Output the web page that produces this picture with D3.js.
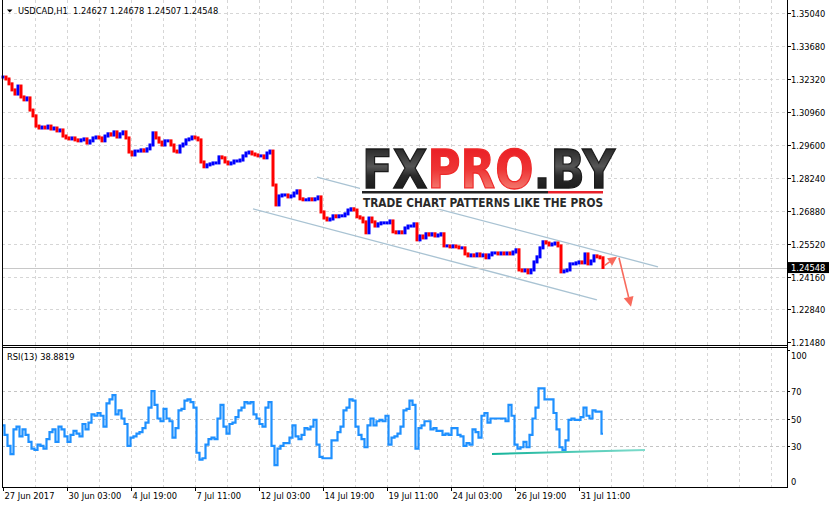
<!DOCTYPE html>
<html><head><meta charset="utf-8">
<script src="https://cdn.jsdelivr.net/npm/d3@7"></script>
<style>html,body{margin:0;padding:0;background:#fff;} svg{display:block;font-family:"DejaVu Sans",sans-serif;}</style>
</head><body><svg id="c" width="829" height="508"></svg>
<script>
// ---------- data ----------
const symbol = "USDCAD,H1";
const ohlcText = ["1.24627", "1.24678", "1.24507", "1.24548"];
const lastPrice = 1.24548;
const rsiTitle = "RSI(13) 38.8819";
const priceTicks = [1.35040, 1.33680, 1.32320, 1.30960, 1.29600, 1.28240, 1.26880, 1.25520, 1.24160, 1.22840, 1.21480];
const rsiTicks = [100, 70, 50, 30, 0];
const rsiLevels = [70, 50, 30];
const timeLabels = ["27 Jun 2017", "30 Jun 03:00", "4 Jul 19:00", "7 Jul 11:00", "12 Jul 03:00", "14 Jul 19:00", "19 Jul 11:00", "24 Jul 03:00", "26 Jul 19:00", "31 Jul 11:00"];
const timeLabelBars = [0, 64, 128, 192, 256, 320, 384, 448, 512, 576];
// closes sampled every 3 hourly bars (bar index 0,3,6,...,600)
const closes = [
1.3240,1.3232,1.3212,1.3187,1.3170,1.3203,1.3158,1.3146,1.3154,1.3104,
1.3080,1.3038,1.3030,1.3034,1.3030,1.3038,1.3026,1.3030,1.3018,1.3022,
1.2997,1.2989,1.2985,1.2989,1.2981,1.2977,1.2981,1.2985,1.2968,1.2977,
1.2989,1.2993,1.2989,1.2977,1.2997,1.3006,1.3001,1.3014,1.2993,1.3006,
1.3014,1.2989,1.2931,1.2919,1.2935,1.2935,1.2940,1.2935,1.2944,1.2960,
1.3010,1.2989,1.2972,1.2960,1.2977,1.2977,1.2960,1.2935,1.2931,1.2956,
1.2964,1.2981,1.2985,1.2993,1.2989,1.2981,1.2890,1.2870,1.2878,1.2882,
1.2886,1.2886,1.2911,1.2907,1.2890,1.2882,1.2886,1.2894,1.2894,1.2898,
1.2915,1.2927,1.2931,1.2923,1.2919,1.2915,1.2915,1.2907,1.2927,1.2935,
1.2795,1.2713,1.2750,1.2754,1.2754,1.2746,1.2750,1.2762,1.2771,1.2738,
1.2734,1.2734,1.2738,1.2734,1.2738,1.2746,1.2684,1.2659,1.2651,1.2655,
1.2668,1.2664,1.2668,1.2668,1.2676,1.2692,1.2697,1.2692,1.2664,1.2659,
1.2643,1.2598,1.2659,1.2643,1.2626,1.2635,1.2639,1.2639,1.2639,1.2647,
1.2602,1.2598,1.2602,1.2598,1.2618,1.2626,1.2626,1.2635,1.2569,1.2585,
1.2577,1.2594,1.2589,1.2594,1.2585,1.2589,1.2594,1.2544,1.2544,1.2540,
1.2544,1.2540,1.2536,1.2536,1.2511,1.2503,1.2507,1.2503,1.2511,1.2503,
1.2507,1.2495,1.2507,1.2515,1.2515,1.2511,1.2515,1.2511,1.2515,1.2511,
1.2519,1.2528,1.2445,1.2441,1.2445,1.2433,1.2445,1.2478,1.2499,1.2536,
1.2561,1.2556,1.2548,1.2552,1.2556,1.2544,1.2437,1.2441,1.2445,1.2470,
1.2470,1.2474,1.2478,1.2474,1.2511,1.2470,1.2482,1.2503,1.2499,1.2495,
1.2455];
const rsiValues = [
45,38,30,24,42,44,37,42,38,33,
28,27,31,30,28,35,40,42,33,44,
42,37,33,38,41,39,37,46,42,47,
53,52,54,52,44,61,64,67,53,56,
50,46,30,36,37,39,40,43,47,58,
70,60,50,48,57,50,48,36,43,56,
57,63,64,62,58,25,20,21,31,35,
36,35,50,60,44,39,46,47,51,56,
58,62,61,62,53,50,46,44,58,62,
30,16,28,30,32,32,36,45,37,35,
38,43,42,44,49,31,22,21,21,21,
34,34,40,44,56,58,64,63,44,38,
35,29,45,50,45,48,49,48,52,31,
36,37,39,44,56,57,63,60,28,43,
45,48,48,42,43,41,41,38,39,38,
43,43,38,37,30,32,31,42,40,36,
52,54,47,50,50,50,50,50,48,60,
52,31,28,29,33,29,38,50,58,72,
72,64,64,64,54,42,29,27,34,49,
50,49,49,51,58,52,50,56,55,55,
38.88];
const sampleStep = 3;
// annotations (bar index, value)
const upperChannel = [[314, 1.2828], [655, 1.2458]];
const lowerChannel = [[250, 1.2697], [594, 1.2322]];
const arrowUp = [[601, 1.2462], [614, 1.2499]];
const arrowDown = [[616, 1.2495], [628, 1.2293]];
const rsiSupport = [[489, 24.1], [642, 27.0]];

// ---------- layout ----------
const svg = d3.select("#c");
const left = 2, right = 787;
const mainTop = 0, mainBottom = 345, rsiTop = 347, rsiBottom = 487;
const FS = 8.3;

const x = d3.scaleLinear().domain([0, 784]).range([3, 787]);
const y = d3.scaleLinear().domain([1.21480, 1.35040]).range([342, 13]);
const yR = d3.scaleLinear().domain([0, 100]).range([487, 350]);

const defs = svg.append("defs");
const gd = defs.append("linearGradient").attr("id", "gDark").attr("x1", 0).attr("y1", 0).attr("x2", 0).attr("y2", 1);
gd.append("stop").attr("offset", "0%").attr("stop-color", "#111");
gd.append("stop").attr("offset", "45%").attr("stop-color", "#555");
gd.append("stop").attr("offset", "60%").attr("stop-color", "#2a2a2a");
gd.append("stop").attr("offset", "100%").attr("stop-color", "#111");
const gr = defs.append("linearGradient").attr("id", "gRed").attr("x1", 0).attr("y1", 0).attr("x2", 0).attr("y2", 1);
gr.append("stop").attr("offset", "0%").attr("stop-color", "#e8141e");
gr.append("stop").attr("offset", "50%").attr("stop-color", "#ee3535");
gr.append("stop").attr("offset", "100%").attr("stop-color", "#f7a08f");
const gt = defs.append("linearGradient").attr("id", "gTeal").attr("x1", 0).attr("y1", 0).attr("x2", 1).attr("y2", 0);
gt.append("stop").attr("offset", "0%").attr("stop-color", "#14b39a");
gt.append("stop").attr("offset", "100%").attr("stop-color", "#7fdccc");

// ---------- grid ----------
const grid = svg.append("g").attr("stroke", "#d6d6d6").attr("stroke-dasharray", "3,3").attr("stroke-width", 1);
const vGrid = d3.range(32, 784, 32);
vGrid.forEach(i => {
  grid.append("line").attr("x1", Math.round(x(i)) + 0.5).attr("x2", Math.round(x(i)) + 0.5).attr("y1", mainTop).attr("y2", mainBottom);
  grid.append("line").attr("x1", Math.round(x(i)) + 0.5).attr("x2", Math.round(x(i)) + 0.5).attr("y1", rsiTop).attr("y2", rsiBottom);
});
priceTicks.slice(0, -1).forEach(v => {
  grid.append("line").attr("x1", left).attr("x2", right).attr("y1", Math.round(y(v)) + 0.5).attr("y2", Math.round(y(v)) + 0.5);
});
rsiLevels.forEach(v => {
  grid.append("line").attr("x1", left).attr("x2", right).attr("y1", Math.round(yR(v)) + 0.5).attr("y2", Math.round(yR(v)) + 0.5).attr("stroke", "#c4c4c4");
});

// ---------- channel lines ----------
const lineP = d3.line().x(d => x(d[0])).y(d => y(d[1]));
[upperChannel, lowerChannel].forEach(c => {
  svg.append("path").attr("d", lineP(c)).attr("stroke", "#a9c3d3").attr("stroke-width", 1.3).attr("fill", "none");
});

// ---------- logo ----------
const logo = svg.append("g");
logo.append("rect").attr("x", 360).attr("y", 147).attr("width", 248).attr("height", 62).attr("fill", "#fff");
const lt = logo.append("text").attr("transform", "translate(362,188) scale(1,1.12)")
  .attr("font-size", 48).attr("font-weight", "bold").attr("textLength", 253).attr("lengthAdjust", "spacingAndGlyphs")
  .attr("font-family", "'DejaVu Sans', sans-serif");
lt.append("tspan").attr("fill", "url(#gDark)").attr("stroke", "#1a1a1a").attr("stroke-width", 1.2).text("FX");
lt.append("tspan").attr("fill", "url(#gRed)").attr("stroke", "#ee2a2a").attr("stroke-width", 1.2).text("PRO");
lt.append("tspan").attr("fill", "url(#gDark)").attr("stroke", "#1a1a1a").attr("stroke-width", 1.2).text(".BY");
logo.append("rect").attr("x", 362).attr("y", 191).attr("width", 186).attr("height", 2.5).attr("fill", "#222");
logo.append("rect").attr("x", 548).attr("y", 191).attr("width", 55).attr("height", 2.5).attr("fill", "#e8202a");
logo.append("text").attr("x", 363).attr("y", 207).attr("font-size", 12.5).attr("font-weight", "bold")
  .attr("textLength", 240).attr("lengthAdjust", "spacingAndGlyphs").attr("fill", "#2a2a2a")
  .text("TRADE CHART PATTERNS LIKE THE PROS");

// ---------- current price line ----------
svg.append("line").attr("x1", left).attr("x2", right).attr("y1", Math.round(y(lastPrice)) + 0.5).attr("y2", Math.round(y(lastPrice)) + 0.5)
  .attr("stroke", "#c8c8c8").attr("stroke-width", 1);

// ---------- price bars ----------
const barsG = svg.append("g");
closes.forEach((v, i) => {
  const prev = i > 0 ? closes[i - 1] : v;
  const top = y(Math.max(prev, v)) - 1.5;
  const bot = y(Math.min(prev, v)) + 1.5;
  barsG.append("rect").attr("x", x(i * sampleStep) - 1.5).attr("width", 3)
    .attr("y", top).attr("height", bot - top)
    .attr("fill", v >= prev ? "#0000ff" : "#ff0000");
});

// ---------- arrows ----------
function arrow(pts, size) {
  const p0 = [x(pts[0][0]), y(pts[0][1])], p1 = [x(pts[1][0]), y(pts[1][1])];
  const dx = p1[0] - p0[0], dy = p1[1] - p0[1], L = Math.hypot(dx, dy);
  const ux = dx / L, uy = dy / L;
  const bx = p1[0] - ux * size, by = p1[1] - uy * size;
  svg.append("line").attr("x1", p0[0]).attr("y1", p0[1]).attr("x2", bx).attr("y2", by)
    .attr("stroke", "#f86a5c").attr("stroke-width", 1.6);
  svg.append("path").attr("d", `M${p1[0]},${p1[1]}L${bx - uy * size / 2},${by + ux * size / 2}L${bx + uy * size / 2},${by - ux * size / 2}Z`)
    .attr("fill", "#f86a5c");
}
arrow(arrowUp, 9);
arrow(arrowDown, 10);

// ---------- RSI ----------
const lineR = d3.line().curve(d3.curveStep).x((d, i) => x(i * sampleStep)).y(d => yR(d));
svg.append("path").attr("d", lineR(rsiValues)).attr("fill", "none").attr("stroke", "#1e90ff").attr("stroke-width", 2.2).attr("stroke-linejoin", "miter");
const lineS = d3.line().x(d => x(d[0])).y(d => yR(d[1]));
svg.append("path").attr("d", lineS(rsiSupport)).attr("fill", "none").attr("stroke", "url(#gTeal)").attr("stroke-width", 2);

// ---------- frames ----------
const frame = svg.append("g").attr("stroke", "#000").attr("stroke-width", 1);
frame.append("line").attr("x1", left + 0.5).attr("x2", left + 0.5).attr("y1", 0).attr("y2", rsiBottom + 0.5);
frame.append("line").attr("x1", right + 0.5).attr("x2", right + 0.5).attr("y1", 0).attr("y2", rsiBottom + 0.5);
frame.append("line").attr("x1", left).attr("x2", right + 1).attr("y1", mainBottom + 0.5).attr("y2", mainBottom + 0.5);
frame.append("line").attr("x1", left).attr("x2", right + 1).attr("y1", rsiTop + 0.5).attr("y2", rsiTop + 0.5);
frame.append("line").attr("x1", left).attr("x2", right + 1).attr("y1", rsiBottom + 0.5).attr("y2", rsiBottom + 0.5);

// ---------- price axis ----------
const ax = svg.append("g").attr("font-size", FS).attr("fill", "#000");
priceTicks.forEach(v => {
  const yy = Math.round(y(v)) + 0.5;
  ax.append("line").attr("x1", right).attr("x2", right + 4).attr("y1", yy).attr("y2", yy).attr("stroke", "#000");
  ax.append("text").attr("x", 791).attr("y", yy + 3).text(d3.format(".5f")(v));
});
const lpY = y(lastPrice);
ax.append("rect").attr("x", 788).attr("y", lpY - 5.5).attr("width", 41).attr("height", 11).attr("fill", "#000");
ax.append("text").attr("x", 791).attr("y", lpY + 3).attr("fill", "#fff").text(d3.format(".5f")(lastPrice));

// ---------- RSI axis ----------
rsiTicks.forEach(v => {
  const yy = Math.round(yR(v)) + 0.5;
  if (v !== 0) ax.append("line").attr("x1", right).attr("x2", right + 3).attr("y1", yy).attr("y2", yy).attr("stroke", "#000");
  const ty = v === 100 ? yy + 8 : (v === 0 ? yy - 3 : yy + 3);
  ax.append("text").attr("x", 791).attr("y", ty).text(v);
});

// ---------- time axis ----------
timeLabelBars.forEach((b, k) => {
  const xx = Math.round(x(b)) + 0.5;
  ax.append("line").attr("x1", xx).attr("x2", xx).attr("y1", rsiBottom).attr("y2", rsiBottom + 4).attr("stroke", "#000");
  ax.append("text").attr("x", xx + 1).attr("y", 499).text(timeLabels[k]);
});

// ---------- titles ----------
svg.append("path").attr("d", "M7,9.5L12.5,9.5L9.75,12.5Z").attr("fill", "#000");
svg.append("text").attr("x", 18).attr("y", 14).attr("font-size", FS).attr("xml:space", "preserve")
  .text(symbol + "  " + ohlcText.join(" "));
svg.append("text").attr("x", 7).attr("y", 359.5).attr("font-size", FS).text(rsiTitle);
</script></body></html>
